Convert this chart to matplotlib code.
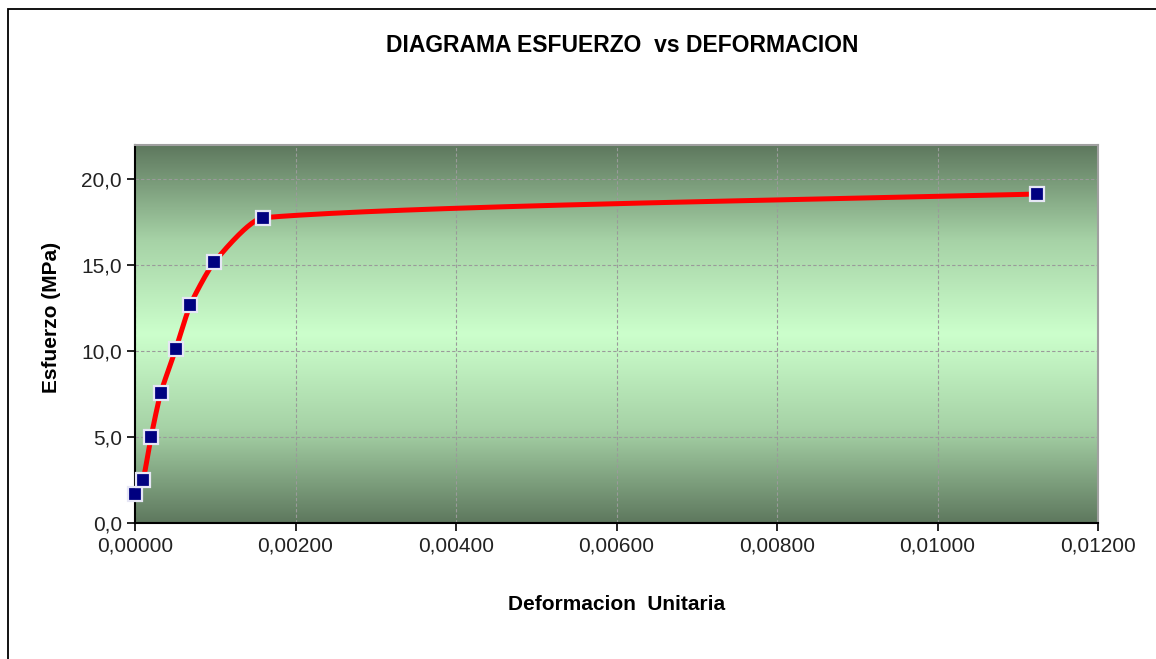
import numpy as np
import matplotlib
matplotlib.use("Agg")
import matplotlib.pyplot as plt
from matplotlib.ticker import FuncFormatter, MultipleLocator
from matplotlib.colors import LinearSegmentedColormap
from matplotlib.patches import Rectangle

plt.rcParams['font.family'] = ['Liberation Sans', 'DejaVu Sans']

# -------------------------
# Data
# -------------------------
deformacion = [0.0, 0.00010, 0.00020, 0.00032, 0.00051, 0.00069, 0.00099, 0.00160, 0.01124]
esfuerzo = [1.70, 2.52, 5.02, 7.56, 10.15, 12.71, 15.20, 17.77, 19.15]

X_MAX, Y_MAX = 0.012, 22


def smooth_line(xs, ys, sx=963 / X_MAX, sy=378 / Y_MAX, k=0.2, n=60):
    # bezier smoothing (like a spreadsheet "smoothed line"), done in screen-like units
    P = np.column_stack([np.array(xs) * sx, np.array(ys) * sy])
    m = len(P)
    tang = np.zeros_like(P)
    for i in range(m):
        if i == 0:
            d = P[1] - P[0]
        elif i == m - 1:
            d = P[-1] - P[-2]
        else:
            d = P[i + 1] - P[i - 1]
        tang[i] = d / np.linalg.norm(d)
    t = np.linspace(0, 1, n)[:, None]
    out = []
    for i in range(m - 1):
        L = np.linalg.norm(P[i + 1] - P[i])
        c0, c3 = P[i], P[i + 1]
        c1 = c0 + tang[i] * k * L
        c2 = c3 - tang[i + 1] * k * L
        out.append((1 - t) ** 3 * c0 + 3 * (1 - t) ** 2 * t * c1 + 3 * (1 - t) * t ** 2 * c2 + t ** 3 * c3)
    out = np.vstack(out)
    return out[:, 0] / sx, out[:, 1] / sy


fig = plt.figure(figsize=(11.56, 6.59), dpi=100)
ax = fig.add_axes([135 / 1156, 1 - 523 / 659, (1098 - 135) / 1156, (523 - 145) / 659])

# outer chart frame
fig.patches.append(Rectangle((8 / 1156, -0.1), 2.0, 1 - 9 / 659 + 0.1, transform=fig.transFigure,
                             fill=False, edgecolor='black', linewidth=1.3, clip_on=False))

# gradient background of the plot area
grad_cmap = LinearSegmentedColormap.from_list('g', ['#5e785e', '#a6d2a6', '#ccffcc', '#a6d2a6', '#5e785e'])
grad = np.linspace(0, 1, 256).reshape(-1, 1)
ax.imshow(grad, extent=[0, 1, 0, 1], transform=ax.transAxes, cmap=grad_cmap,
          aspect='auto', zorder=0)

ax.set_xlim(0, X_MAX)
ax.set_ylim(0, Y_MAX)
ax.xaxis.set_major_locator(MultipleLocator(0.002))
ax.yaxis.set_major_locator(MultipleLocator(5))
ax.xaxis.set_major_formatter(FuncFormatter(lambda v, p: f"{v:.5f}".replace('.', ',')))
ax.yaxis.set_major_formatter(FuncFormatter(lambda v, p: f"{v:.1f}".replace('.', ',')))
ax.grid(True, color='#9a9a9a', linestyle=(0, (3, 2)), linewidth=0.8, zorder=1)
ax.set_axisbelow(True)

sx, sy = smooth_line(deformacion, esfuerzo)
ax.plot(sx, sy, color='#ff0000', linewidth=3.6, zorder=3, solid_capstyle='round')
ax.plot(deformacion, esfuerzo, linestyle='none', marker='s', markersize=9.5,
        markerfacecolor='#000080', markeredgecolor='#e6e6f5', markeredgewidth=1.6,
        zorder=4, clip_on=False)

for side in ['top', 'right']:
    ax.spines[side].set_color('#a0a0a0')
    ax.spines[side].set_linewidth(1.5)
for side in ['left', 'bottom']:
    ax.spines[side].set_color('black')
    ax.spines[side].set_linewidth(1.5)

ax.tick_params(axis='both', labelsize=15, length=6, width=1.2, direction='out', colors='black',
               labelcolor='#222222')
ax.tick_params(axis='x', pad=4)

fig.text(622 / 1156, 1 - 45 / 659, "DIAGRAMA ESFUERZO  vs DEFORMACION", ha='center', va='center',
         fontsize=16.5, fontweight='bold')
fig.text(617 / 1156, 1 - 605 / 659, "Deformacion  Unitaria", ha='center', va='center',
         fontsize=15, fontweight='bold')
fig.text(52 / 1156, 1 - 317 / 659, "Esfuerzo (MPa)", ha='center', va='center', rotation=90,
         fontsize=15, fontweight='bold')

fig.savefig("out.png", dpi=100)
